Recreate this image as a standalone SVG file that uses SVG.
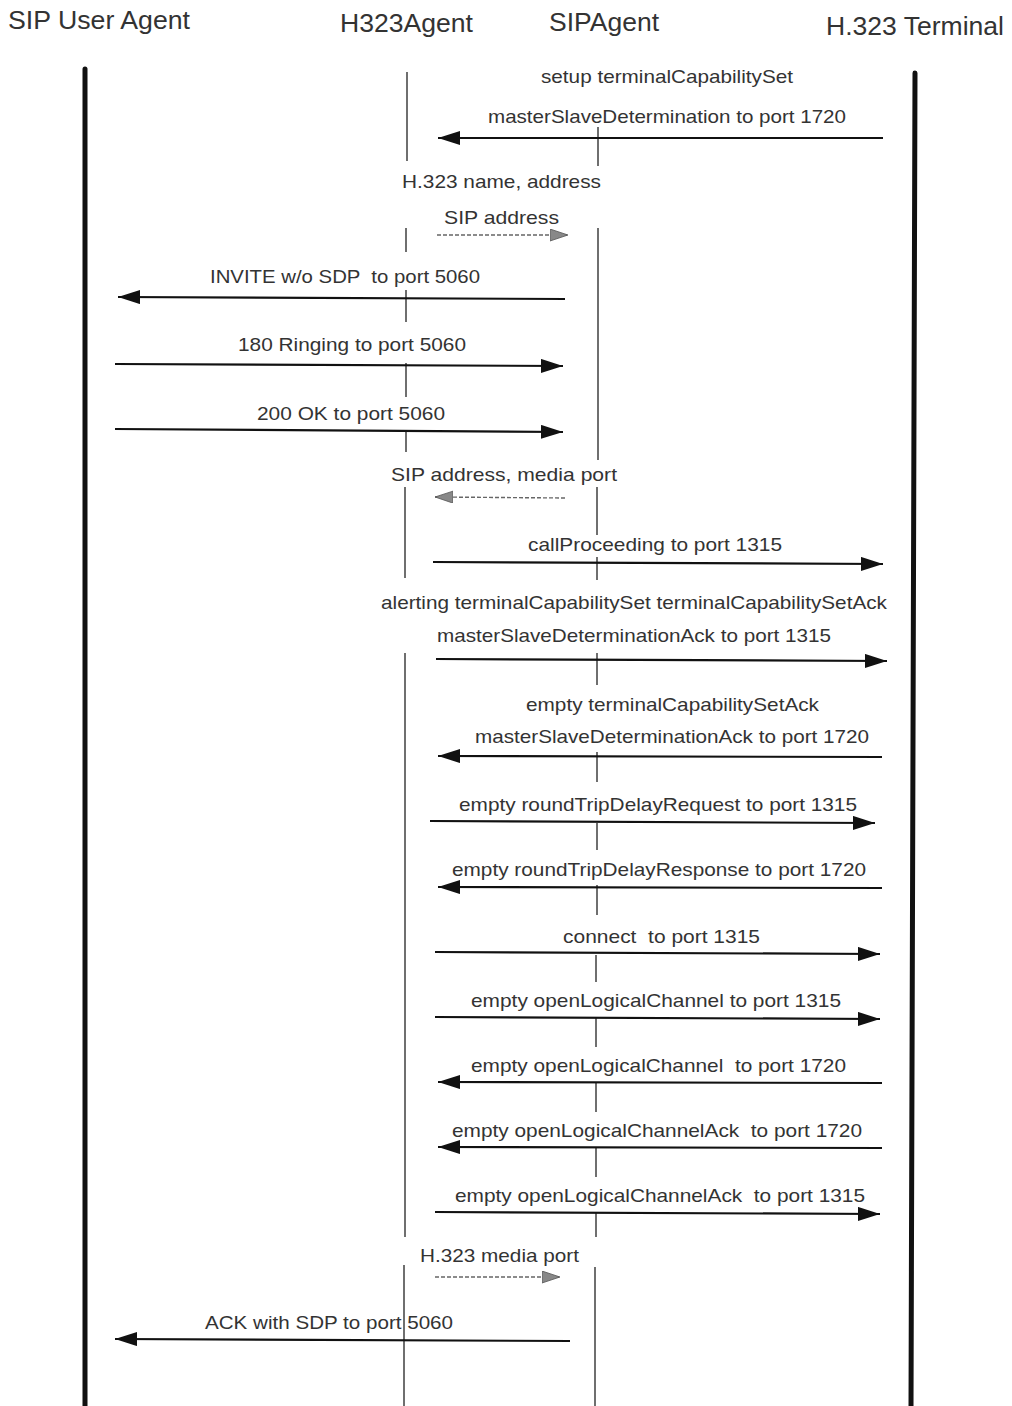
<svg xmlns="http://www.w3.org/2000/svg" width="1012" height="1406" viewBox="0 0 1012 1406">
<style>
text{font-family:"Liberation Sans",Arial,sans-serif;fill:#333;white-space:pre}
.h{font-size:25px}
.m{font-size:19px}
.life{stroke:#111;stroke-width:5;stroke-linecap:round;fill:none}
.thin{stroke:#333;stroke-width:1.4;fill:none}
.msg{stroke:#111;stroke-width:2.2;fill:none}
.dash{stroke:#666;stroke-width:1.4;stroke-dasharray:4 2;fill:none}
</style>
<defs>
<marker id="ah" markerUnits="userSpaceOnUse" markerWidth="24" markerHeight="16" refX="22" refY="7" orient="auto">
<path d="M0,0 L22,7 L0,14 z" fill="#111"/>
</marker>
<marker id="dh" markerUnits="userSpaceOnUse" markerWidth="20" markerHeight="14" refX="18" refY="6" orient="auto">
<path d="M0,0 L18,6 L0,12 z" fill="#888" stroke="#555" stroke-width="0.8"/>
</marker>
</defs>
<rect width="1012" height="1406" fill="#fff"/>

<g id="sip-user-agent">
<text class="h" x="8" y="29" textLength="182" lengthAdjust="spacingAndGlyphs">SIP User Agent</text>
<line class="life" x1="85" y1="69" x2="85" y2="1406"/>
</g>
<g id="h323agent">
<text class="h" x="340" y="32" textLength="133" lengthAdjust="spacingAndGlyphs">H323Agent</text>
<path class="thin" d="M407,72 V161 M406,228 V252 M406,290 V322 M406,363 V397 M406,430 V452 M405,487 V578 M405,653 V1237 M404,1265 V1406"/>
</g>
<g id="sipagent">
<text class="h" x="549" y="31" textLength="110" lengthAdjust="spacingAndGlyphs">SIPAgent</text>
<path class="thin" d="M598,127 V166 M598,228 V460 M597,487 V535 M597,557 V580 M597,653 V685 M597,752 V782 M597,823 V850 M597,885 V915 M596,955 V982 M596,1018 V1047 M596,1082 V1112 M596,1147 V1177 M596,1212 V1237 M595,1267 V1406"/>
</g>
<g id="h323-terminal">
<text class="h" x="826" y="35" textLength="178" lengthAdjust="spacingAndGlyphs">H.323 Terminal</text>
<line class="life" x1="915" y1="73" x2="911" y2="1406"/>
</g>

<g id="connectors">
<line class="msg" x1="883" y1="138" x2="438" y2="138" marker-end="url(#ah)"/>
<line class="dash" x1="437" y1="235" x2="568" y2="235" marker-end="url(#dh)"/>
<line class="msg" x1="565" y1="299" x2="118" y2="297" marker-end="url(#ah)"/>
<line class="msg" x1="115" y1="364" x2="563" y2="366" marker-end="url(#ah)"/>
<line class="msg" x1="115" y1="429" x2="563" y2="432" marker-end="url(#ah)"/>
<line class="dash" x1="565" y1="498" x2="435" y2="497" marker-end="url(#dh)"/>
<line class="msg" x1="433" y1="562" x2="883" y2="564" marker-end="url(#ah)"/>
<line class="msg" x1="436" y1="659" x2="887" y2="661" marker-end="url(#ah)"/>
<line class="msg" x1="882" y1="757" x2="438" y2="756" marker-end="url(#ah)"/>
<line class="msg" x1="430" y1="821" x2="875" y2="823" marker-end="url(#ah)"/>
<line class="msg" x1="882" y1="888" x2="438" y2="887" marker-end="url(#ah)"/>
<line class="msg" x1="435" y1="952" x2="880" y2="954" marker-end="url(#ah)"/>
<line class="msg" x1="435" y1="1017" x2="880" y2="1019" marker-end="url(#ah)"/>
<line class="msg" x1="882" y1="1083" x2="438" y2="1082" marker-end="url(#ah)"/>
<line class="msg" x1="882" y1="1148" x2="438" y2="1147" marker-end="url(#ah)"/>
<line class="msg" x1="435" y1="1212" x2="880" y2="1214" marker-end="url(#ah)"/>
<line class="dash" x1="435" y1="1277" x2="560" y2="1277" marker-end="url(#dh)"/>
<line class="msg" x1="570" y1="1341" x2="115" y2="1339" marker-end="url(#ah)"/>
</g>

<g id="labels">
<text class="m" x="541" y="83" textLength="252" lengthAdjust="spacingAndGlyphs">setup terminalCapabilitySet</text>
<text class="m" x="488" y="123" textLength="358" lengthAdjust="spacingAndGlyphs">masterSlaveDetermination to port 1720</text>
<text class="m" x="402" y="188" textLength="199" lengthAdjust="spacingAndGlyphs">H.323 name, address</text>
<text class="m" x="444" y="224" textLength="115" lengthAdjust="spacingAndGlyphs">SIP address</text>
<text class="m" x="210" y="283" textLength="270" lengthAdjust="spacingAndGlyphs">INVITE w/o SDP  to port 5060</text>
<text class="m" x="238" y="351" textLength="228" lengthAdjust="spacingAndGlyphs">180 Ringing to port 5060</text>
<text class="m" x="257" y="420" textLength="188" lengthAdjust="spacingAndGlyphs">200 OK to port 5060</text>
<text class="m" x="391" y="481" textLength="226" lengthAdjust="spacingAndGlyphs">SIP address, media port</text>
<text class="m" x="528" y="551" textLength="254" lengthAdjust="spacingAndGlyphs">callProceeding to port 1315</text>
<text class="m" x="381" y="609" textLength="506" lengthAdjust="spacingAndGlyphs">alerting terminalCapabilitySet terminalCapabilitySetAck</text>
<text class="m" x="437" y="642" textLength="394" lengthAdjust="spacingAndGlyphs">masterSlaveDeterminationAck to port 1315</text>
<text class="m" x="526" y="711" textLength="293" lengthAdjust="spacingAndGlyphs">empty terminalCapabilitySetAck</text>
<text class="m" x="475" y="743" textLength="394" lengthAdjust="spacingAndGlyphs">masterSlaveDeterminationAck to port 1720</text>
<text class="m" x="459" y="811" textLength="398" lengthAdjust="spacingAndGlyphs">empty roundTripDelayRequest to port 1315</text>
<text class="m" x="452" y="876" textLength="414" lengthAdjust="spacingAndGlyphs">empty roundTripDelayResponse to port 1720</text>
<text class="m" x="563" y="943" textLength="197" lengthAdjust="spacingAndGlyphs">connect  to port 1315</text>
<text class="m" x="471" y="1007" textLength="370" lengthAdjust="spacingAndGlyphs">empty openLogicalChannel to port 1315</text>
<text class="m" x="471" y="1072" textLength="375" lengthAdjust="spacingAndGlyphs">empty openLogicalChannel  to port 1720</text>
<text class="m" x="452" y="1137" textLength="410" lengthAdjust="spacingAndGlyphs">empty openLogicalChannelAck  to port 1720</text>
<text class="m" x="455" y="1202" textLength="410" lengthAdjust="spacingAndGlyphs">empty openLogicalChannelAck  to port 1315</text>
<text class="m" x="420" y="1262" textLength="159" lengthAdjust="spacingAndGlyphs">H.323 media port</text>
<text class="m" x="205" y="1329" textLength="248" lengthAdjust="spacingAndGlyphs">ACK with SDP to port 5060</text>
</g>
</svg>
